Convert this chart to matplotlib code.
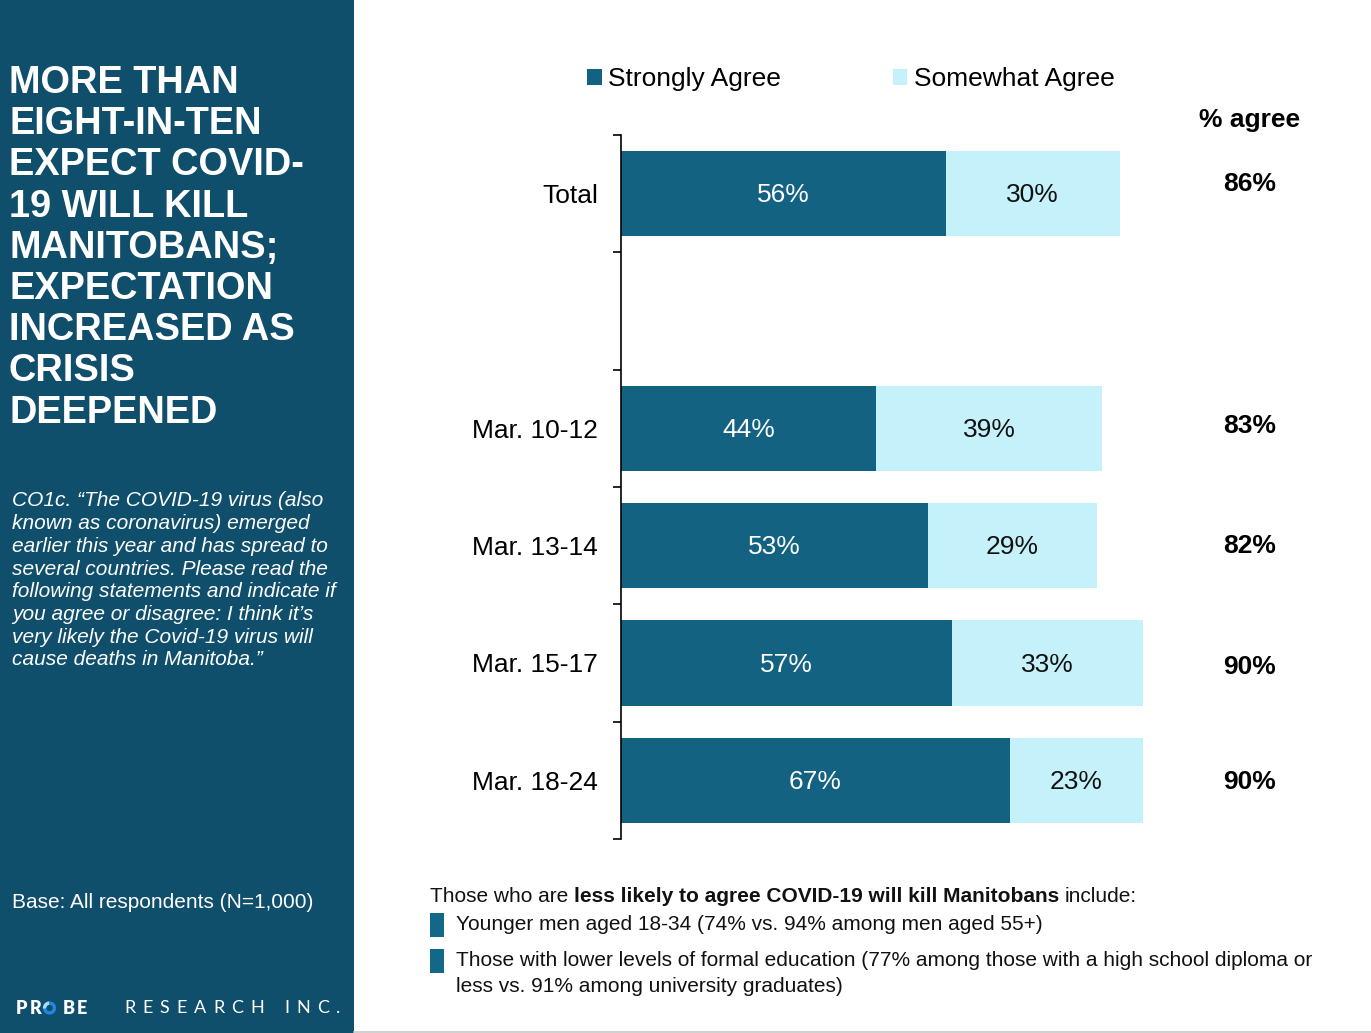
import matplotlib
matplotlib.use("Agg")
import matplotlib.pyplot as plt
from matplotlib.patches import Rectangle, Wedge
import numpy as np

# --- data ------------------------------------------------------------------
categories = ["Total", "", "Mar. 10-12", "Mar. 13-14", "Mar. 15-17", "Mar. 18-24"]
strongly_agree = [56, 0, 44, 53, 57, 67]
somewhat_agree = [30, 0, 39, 29, 33, 23]
pct_agree = [86, 0, 83, 82, 90, 90]
series_names = ["Strongly Agree", "Somewhat Agree"]

title_lines = ["MORE THAN", "EIGHT-IN-TEN", "EXPECT COVID-", "19 WILL KILL",
               "MANITOBANS;", "EXPECTATION", "INCREASED AS", "CRISIS", "DEEPENED"]
question_lines = ["CO1c. \u201cThe COVID-19 virus (also",
                  "known as coronavirus) emerged",
                  "earlier this year and has spread to",
                  "several countries. Please read the",
                  "following statements and indicate if",
                  "you agree or disagree: I think it\u2019s",
                  "very likely the Covid-19 virus will",
                  "cause deaths in Manitoba.\u201d"]
base_note = "Base: All respondents (N=1,000)"
notes_intro = [("Those who are", "normal"),
               ("less likely to agree COVID-19 will kill Manitobans", "bold"),
               ("include:", "normal")]
notes_bullets = [["Younger men aged 18-34 (74% vs. 94% among men aged 55+)"],
                 ["Those with lower levels of formal education (77% among those with a high school diploma or",
                  "less vs. 91% among university graduates)"]]

# --- style -------------------------------------------------------------------
W, H = 1371, 1033
PANEL = "#0f4f6b"
DARK = "#136282"
LIGHT = "#c5f1fb"
# the "% agree" column sits a little off the bar centres in the original slide
pct_nudge_px = [-10, 0, -2, 0, 4, 2]
plt.rcParams["font.family"] = ["Liberation Sans", "DejaVu Sans"]


def fx(x):
    return x / W


def fy(y):
    return 1 - y / H


fig = plt.figure(figsize=(W / 100, H / 100), dpi=100)
renderer = fig.canvas.get_renderer()

# left panel
fig.patches.append(Rectangle((0, 0), fx(354), 1, transform=fig.transFigure,
                             facecolor=PANEL, edgecolor="none", zorder=0))
fig.add_artist(plt.Line2D([fx(354), 1], [fy(1031.5)] * 2, transform=fig.transFigure,
                          color="#c8c8c8", lw=1.2))

for i, line in enumerate(title_lines):
    fig.text(fx(9), fy(83 + i * 41.2), line, color="white", fontsize=27.4,
             fontweight="bold", va="center", ha="left")

for i, line in enumerate(question_lines):
    fig.text(fx(12), fy(501 + i * 22.7), line, color="white", fontsize=15,
             fontstyle="italic", va="center", ha="left")

fig.text(fx(12), fy(902), base_note, color="white", fontsize=15, va="center")


# logo: letter-spaced wordmark, the "O" of PROBE drawn as a blue ring
logo_y = 1008
logo_kw = dict(color="white", fontsize=13, family="Lato", va="center", ha="left")
for ch, x0 in zip("PRBE", [16, 30, 63, 77]):
    fig.text(fx(x0), fy(logo_y), ch, fontweight="heavy", **logo_kw)
ring_c = (49.5 / 100, (H - logo_y) / 100)
fig.patches.append(Wedge(ring_c, 0.066, 0, 360, width=0.034, transform=fig.dpi_scale_trans,
                         facecolor="#2088dd", edgecolor="none"))
fig.patches.append(Wedge(ring_c, 0.066, 95, 185, width=0.034, transform=fig.dpi_scale_trans,
                         facecolor="#a6dcf7", edgecolor="none"))

word = "RESEARCH INC."
glyphs = []
for ch in word:
    if ch == " ":
        glyphs.append(None)
        continue
    glyphs.append(fig.text(0, fy(logo_y), ch, fontweight="normal", **logo_kw))
widths = [g.get_window_extent(renderer).width if g else 6 for g in glyphs]
tracking = (340 - 124 - sum(widths)) / (len(word) - 1)
x = 124
for g, w in zip(glyphs, widths):
    if g:
        g.set_x(fx(x))
    x += w + tracking

# --- bar chart ---------------------------------------------------------------
ax = fig.add_axes([fx(621), fy(839), 580 / W, 704 / H])
y = np.arange(len(categories))
bars1 = ax.barh(y, strongly_agree, height=0.73, color=DARK, label=series_names[0])
bars2 = ax.barh(y, somewhat_agree, left=strongly_agree, height=0.73, color=LIGHT,
                label=series_names[1])

for i in range(len(categories)):
    if strongly_agree[i]:
        ax.text(strongly_agree[i] / 2, i + 0.015, f"{strongly_agree[i]}%", color="white",
                fontsize=19, ha="center", va="center")
        ax.text(strongly_agree[i] + somewhat_agree[i] / 2, i + 0.015, f"{somewhat_agree[i]}%",
                color="#111111", fontsize=19, ha="center", va="center")
        ax.text((1250 - 621) / 580, i + pct_nudge_px[i] / 117.3, f"{pct_agree[i]}%",
                transform=ax.get_yaxis_transform(),
                fontsize=19, fontweight="bold", ha="center", va="center", color="black")

ax.set_xlim(0, 100)
ax.set_ylim(len(categories) - 0.5, -0.5)
ax.set_yticks(y)
ax.set_yticklabels(categories, fontsize=19)
ax.set_yticks(np.arange(len(categories) + 1) - 0.5, minor=True)
ax.tick_params(axis="y", which="major", length=0, pad=16.5)
ax.tick_params(axis="y", which="minor", length=6, width=1.2, direction="out")
ax.set_xticks([])
for side in ["top", "right", "bottom"]:
    ax.spines[side].set_visible(False)
ax.spines["left"].set_linewidth(1.2)
ax.patch.set_visible(False)

fig.legend(handles=[bars1, bars2], loc="center left", bbox_to_anchor=(fx(587), fy(79)),
           ncol=2, frameon=False, fontsize=19, handlelength=0.55, handleheight=0.55,
           handletextpad=0.25, columnspacing=4.23, borderpad=0, borderaxespad=0)

fig.text(fx(1250), fy(120), "% agree", fontsize=19, fontweight="bold",
         ha="center", va="center")

# --- notes -------------------------------------------------------------------
space = (fig.text(0, 0, "x x", fontsize=15).get_window_extent(renderer).width
         - fig.text(0, 0, "xx", fontsize=15).get_window_extent(renderer).width)
for t in fig.texts[-2:]:
    t.remove()

x = 430
for s, weight in notes_intro:
    t = fig.text(fx(x), fy(896), s, fontsize=15, fontweight=weight, va="center",
                 color="#111111")
    x += t.get_window_extent(renderer).width + space

row = 925
for bullet in notes_bullets:
    fig.patches.append(Rectangle((fx(430), fy(row + 12)), 14 / W, 24 / H,
                                 transform=fig.transFigure, facecolor="#13688a",
                                 edgecolor="none"))
    for line in bullet:
        fig.text(fx(456), fy(row), line, fontsize=15, va="center", color="#111111")
        row += 26
    row += 10

fig.savefig("out.png", dpi=100)
